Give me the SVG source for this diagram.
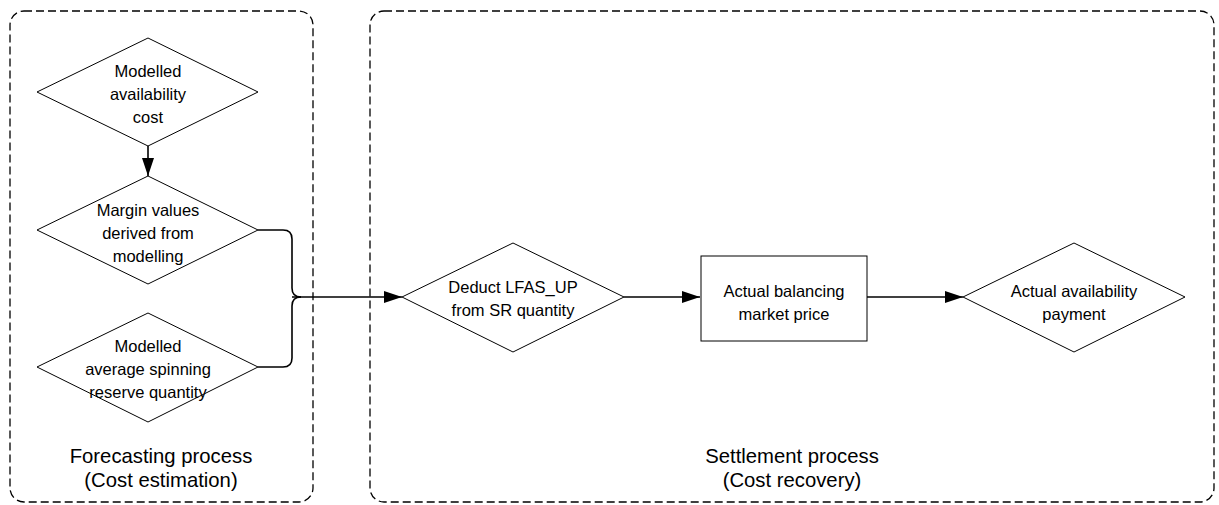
<svg xmlns="http://www.w3.org/2000/svg" width="1219" height="505" viewBox="0 0 1219 505">
<defs>
<style>
.container{fill:none;stroke:#000;stroke-width:1.3;stroke-dasharray:8 4}
.node{fill:#fff;stroke:#000;stroke-width:1}
.conn{fill:none;stroke:#000;stroke-width:1.6}
text{font-family:"Liberation Sans",Arial,sans-serif;fill:#000;text-anchor:middle}
.t{font-size:16.5px}
.lbl{font-size:20.3px}
</style>
<marker id="arrL" viewBox="0 0 18 12" refX="18" refY="6" markerWidth="18" markerHeight="12" orient="auto" markerUnits="userSpaceOnUse">
<path d="M0,0 L18,6 L0,12 Z" fill="#000"/>
</marker>
</defs>
<rect width="1219" height="505" fill="#fff"/>

<g id="forecasting-container">
<rect class="container" x="10" y="11" width="303" height="491" rx="14" ry="14"/>
<text class="lbl" x="161" y="463">Forecasting process</text>
<text class="lbl" x="161" y="487">(Cost estimation)</text>
</g>

<g id="settlement-container">
<rect class="container" x="370" y="11" width="844" height="491" rx="14" ry="14"/>
<text class="lbl" x="792" y="463">Settlement process</text>
<text class="lbl" x="792" y="487">(Cost recovery)</text>
</g>

<g id="connectors">
<path class="conn" d="M148,146 V176" marker-end="url(#arrL)"/>
<path class="conn" d="M258,230 H283 Q292,230 292,239 V288 Q292,297 301,297"/>
<path class="conn" d="M258,367 H283 Q292,367 292,358 V306 Q292,297 301,297"/>
<path class="conn" d="M292,297 H402" marker-end="url(#arrL)"/>
<path class="conn" d="M624,297 H700" marker-end="url(#arrL)"/>
<path class="conn" d="M867,297 H963" marker-end="url(#arrL)"/>
</g>

<g id="modelled-availability-cost">
<polygon class="node" points="148,38 258,92 148,146 37,92"/>
<text class="t" x="148" y="77">Modelled</text>
<text class="t" x="148" y="100">availability</text>
<text class="t" x="148" y="123">cost</text>
</g>

<g id="margin-values">
<polygon class="node" points="148,176 258,230 148,284 37,230"/>
<text class="t" x="148" y="216">Margin values</text>
<text class="t" x="148" y="239">derived from</text>
<text class="t" x="148" y="262">modelling</text>
</g>

<g id="modelled-spinning-reserve">
<polygon class="node" points="148,313 258,367 148,422 37,367"/>
<text class="t" x="148" y="352">Modelled</text>
<text class="t" x="148" y="375">average spinning</text>
<text class="t" x="148" y="398">reserve quantity</text>
</g>

<g id="deduct-lfas-up">
<polygon class="node" points="513,243 624,297 513,352 402,297"/>
<text class="t" x="513" y="293">Deduct LFAS_UP</text>
<text class="t" x="513" y="316">from SR quantity</text>
</g>

<g id="actual-balancing-market-price">
<rect class="node" x="701" y="256" width="166" height="85"/>
<text class="t" x="784" y="297">Actual balancing</text>
<text class="t" x="784" y="320">market price</text>
</g>

<g id="actual-availability-payment">
<polygon class="node" points="1074,243 1185,297 1074,352 963,297"/>
<text class="t" x="1074" y="297">Actual availability</text>
<text class="t" x="1074" y="320">payment</text>
</g>
</svg>
